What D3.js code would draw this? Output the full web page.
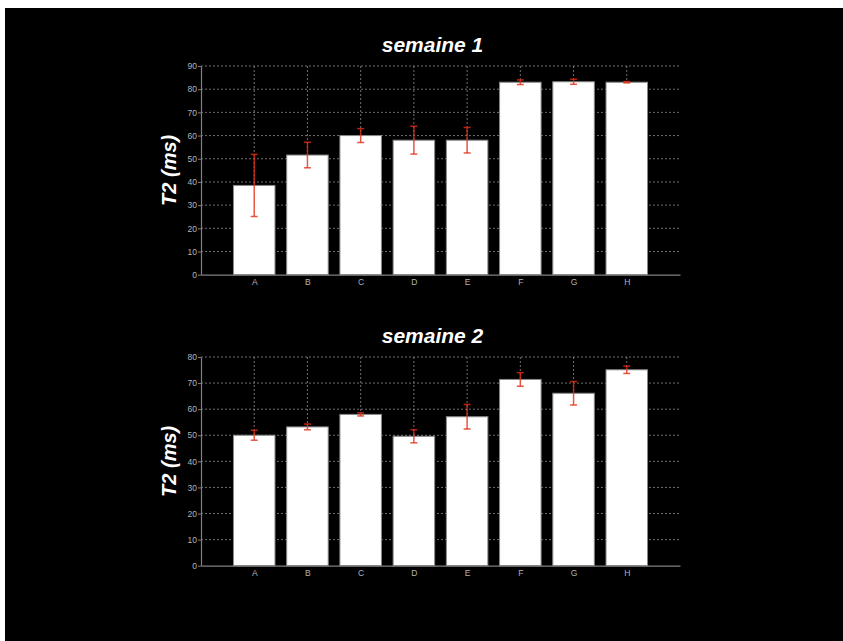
<!DOCTYPE html>
<html><head><meta charset="utf-8">
<script src="https://cdn.jsdelivr.net/npm/d3@7"></script>
<style>html,body{margin:0;padding:0;background:#fff;}svg{display:block;}</style>
</head><body>
<svg id="chart" width="843" height="641"></svg>
<script>
const categories = ["A","B","C","D","E","F","G","H"];
const week1Values = [38.5, 51.6, 60.0, 58.0, 58.0, 83.0, 83.2, 83.0];
const week1Errors = [13.4, 5.5, 3.0, 6.0, 5.5, 1.0, 1.1, 0.3];
const week2Values = [50.0, 53.2, 58.0, 49.6, 57.1, 71.4, 66.1, 75.1];
const week2Errors = [1.9, 1.1, 0.6, 2.5, 4.7, 2.6, 4.5, 1.4];
const week1Ticks = [0,10,20,30,40,50,60,70,80,90];
const week2Ticks = [0,10,20,30,40,50,60,70,80];
const titles = ["semaine 1", "semaine 2"];
const yLabel = "T2 (ms)";

const svg = d3.select("#chart");
svg.append("rect").attr("x",5).attr("y",8).attr("width",843-5).attr("height",641-8).attr("fill","#000");

function panel(top, values, errors, ticks, title) {
  const left = 201, right = 680, height = 208.7;
  const x = d3.scaleLinear().domain([0, categories.length + 1]).range([left, right]);
  const y = d3.scaleLinear().domain([0, d3.max(ticks)]).range([top + height, top]);
  const step = x(1) - x(0);
  const bw = step * 0.78;
  const g = svg.append("g");

  g.selectAll(".hg").data(ticks.filter(t => t > 0)).join("line")
    .attr("x1", left).attr("x2", right)
    .attr("y1", d => y(d)).attr("y2", d => y(d))
    .attr("stroke", "#8c8c8c").attr("stroke-width", 0.8).attr("stroke-dasharray", "2,2");
  g.selectAll(".vg").data(categories).join("line")
    .attr("x1", (d,i) => x(i+1)).attr("x2", (d,i) => x(i+1))
    .attr("y1", y(d3.max(ticks))).attr("y2", y(0))
    .attr("stroke", "#8c8c8c").attr("stroke-width", 0.8).attr("stroke-dasharray", "2,2");

  g.selectAll(".bar").data(values).join("rect")
    .attr("x", (d,i) => x(i+1) - bw/2).attr("width", bw)
    .attr("y", d => y(d)).attr("height", d => y(0) - y(d))
    .attr("fill", "#fff").attr("stroke", "#888").attr("stroke-width", 1);

  const ya = d3.axisLeft(y).tickValues(ticks).tickSize(3).tickPadding(1).tickSizeOuter(0);
  const yg = g.append("g").attr("transform", `translate(${left},0)`).call(ya);
  yg.select(".domain").attr("stroke", "#808080").attr("stroke-width", 1.2);
  yg.selectAll(".tick line").attr("stroke", "#808080");
  yg.selectAll("text").attr("fill", "#b4b4b4").style("font-family", "Liberation Sans, Arial, sans-serif").style("font-size", "8.5px");

  const xa = d3.axisBottom(x).tickValues(d3.range(1, categories.length + 1))
    .tickFormat(d => categories[d-1]).tickSize(0).tickPadding(4).tickSizeOuter(0);
  const xg = g.append("g").attr("transform", `translate(0,${y(0)})`).call(xa);
  xg.select(".domain").attr("stroke", "#808080").attr("stroke-width", 1.2);
  xg.selectAll("text").attr("fill", "#b4b4b4").style("font-family", "Liberation Sans, Arial, sans-serif").style("font-size", "8.5px");

  const eb = g.selectAll(".eb").data(values).join("g")
    .attr("stroke", "rgba(225,45,20,0.8)").attr("stroke-width", 1.5);
  eb.append("line")
    .attr("x1", (d,i) => x(i+1)).attr("x2", (d,i) => x(i+1))
    .attr("y1", (d,i) => y(d + errors[i])).attr("y2", (d,i) => y(d - errors[i]));
  eb.append("line")
    .attr("x1", (d,i) => x(i+1) - 3.5).attr("x2", (d,i) => x(i+1) + 3.5)
    .attr("y1", (d,i) => y(d + errors[i])).attr("y2", (d,i) => y(d + errors[i]));
  eb.append("line")
    .attr("x1", (d,i) => x(i+1) - 3.5).attr("x2", (d,i) => x(i+1) + 3.5)
    .attr("y1", (d,i) => y(d - errors[i])).attr("y2", (d,i) => y(d - errors[i]));

  svg.append("text").attr("x", (left + right) / 2 - 8).attr("y", top - 14)
    .attr("text-anchor", "middle").attr("fill", "#fff")
    .style("font-family", "Liberation Sans, Arial, sans-serif").style("font-size", "21px")
    .style("font-weight", "bold").style("font-style", "italic").text(title);
  svg.append("text").attr("transform", `translate(176,${top + height/2}) rotate(-90)`)
    .attr("text-anchor", "middle").attr("fill", "#fff")
    .style("font-family", "Liberation Sans, Arial, sans-serif").style("font-size", "20px")
    .style("font-weight", "bold").style("font-style", "italic").text(yLabel);
}

panel(66, week1Values, week1Errors, week1Ticks, titles[0]);
panel(357, week2Values, week2Errors, week2Ticks, titles[1]);
</script>
</body></html>
